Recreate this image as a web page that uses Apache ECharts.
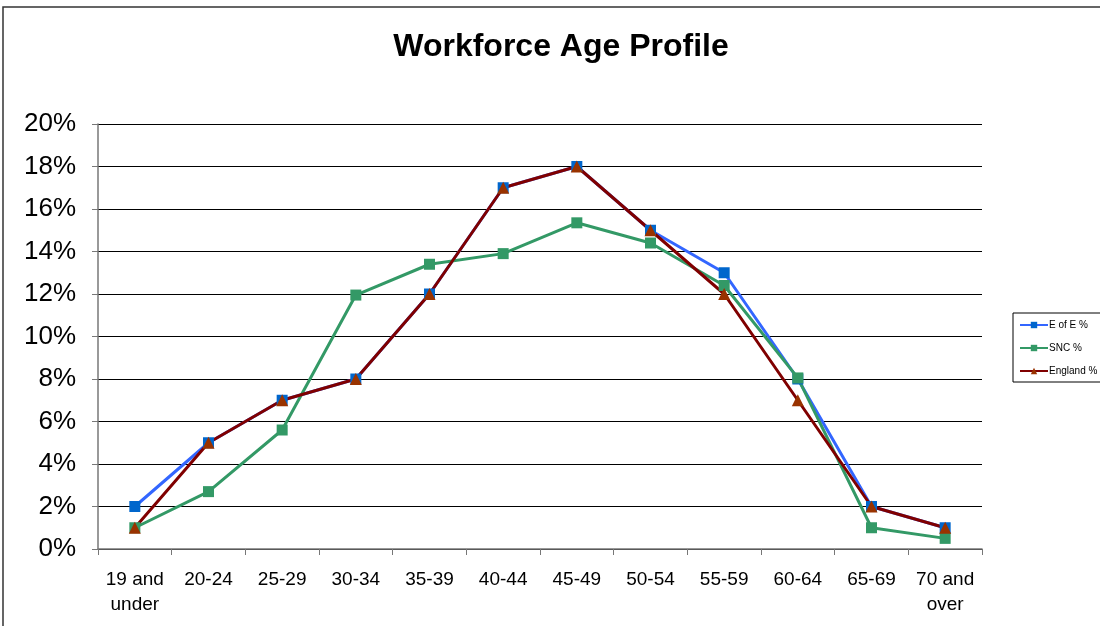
<!DOCTYPE html>
<html>
<head>
<meta charset="utf-8">
<script src="https://cdn.jsdelivr.net/npm/echarts@6/dist/echarts.min.js"></script>
<style>
  html, body { margin: 0; padding: 0; background: #fff; }
  #chart { width: 1100px; height: 626px; }
</style>
</head>
<body>
<div id="chart"></div>
<script>
const ageBands = ['19 and\nunder', '20-24', '25-29', '30-34', '35-39', '40-44', '45-49', '50-54', '55-59', '60-64', '65-69', '70 and\nover'];
const eofeValues = [2, 5, 7, 8, 12, 17, 18, 15, 13, 8, 2, 1];
const sncValues = [1, 2.7, 5.6, 11.95, 13.4, 13.9, 15.35, 14.4, 12.4, 8.05, 1, 0.5];
const englandValues = [1, 5, 7, 8, 12, 17, 18, 15, 12, 7, 2, 1];

const chart = echarts.init(document.getElementById('chart'));

const option = {
  backgroundColor: '#fff',
  animation: false,
  textStyle: { fontFamily: 'Liberation Sans, Arial, sans-serif' },
  title: {
    text: 'Workforce Age Profile',
    left: 556,
    top: 26,
    textAlign: 'center',
    textStyle: { fontSize: 32, fontWeight: 'bold', color: '#000' }
  },
  graphic: [{
    type: 'rect',
    shape: { x: 3, y: 7, width: 1200, height: 700 },
    style: { fill: 'none', stroke: '#333', lineWidth: 1.5 },
    silent: true
  }],
  legend: {
    orient: 'vertical',
    left: 1013,
    top: 313,
    itemWidth: 28,
    itemHeight: 8,
    itemGap: 13,
    padding: [7, 4, 6, 6],
    borderColor: '#000',
    borderWidth: 1,
    textStyle: { fontSize: 10, color: '#000', padding: [0, 0, 0, -4] },
    data: ['E of E %', 'SNC %', 'England %']
  },
  grid: { left: 98, right: 118, top: 124, bottom: 77 },
  xAxis: {
    type: 'category',
    data: ageBands,
    boundaryGap: true,
    axisLine: { lineStyle: { color: '#777', width: 1.5 } },
    axisTick: { show: true, length: 6, lineStyle: { color: '#777' } },
    axisLabel: { color: '#000', fontSize: 19, lineHeight: 25, margin: 18, interval: 0 }
  },
  yAxis: {
    type: 'value',
    min: 0,
    max: 20,
    interval: 2,
    axisLine: { show: true, lineStyle: { color: '#777', width: 1.5 } },
    axisTick: { show: true, length: 6, lineStyle: { color: '#777' } },
    axisLabel: { color: '#000', fontSize: 26, margin: 22, formatter: '{value}%' },
    splitLine: { lineStyle: { color: '#000', width: 1 } }
  },
  series: [
    {
      name: 'E of E %',
      type: 'line',
      data: eofeValues,
      symbol: 'rect',
      symbolSize: 11,
      lineStyle: { color: '#3366ff', width: 3 },
      itemStyle: { color: '#0066cc' },
      color: '#3366ff'
    },
    {
      name: 'SNC %',
      type: 'line',
      data: sncValues,
      symbol: 'rect',
      symbolSize: 11,
      lineStyle: { color: '#339966', width: 3 },
      itemStyle: { color: '#339966' },
      color: '#339966'
    },
    {
      name: 'England %',
      type: 'line',
      data: englandValues,
      symbol: 'triangle',
      symbolSize: 12,
      lineStyle: { color: '#800000', width: 3 },
      itemStyle: { color: '#993300' },
      color: '#800000'
    }
  ]
};

chart.setOption(option);
</script>
</body>
</html>
